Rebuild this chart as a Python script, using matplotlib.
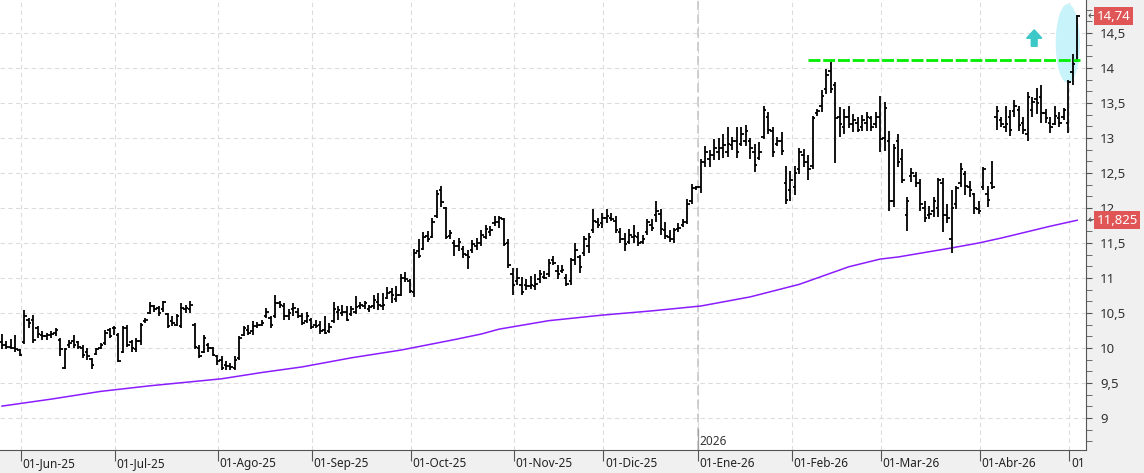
import numpy as np
import pandas as pd
import matplotlib
matplotlib.use("Agg")
import matplotlib.pyplot as plt
from matplotlib.patches import Ellipse
from matplotlib.ticker import MultipleLocator, FixedLocator
import matplotlib.transforms as mtransforms

plt.rcParams['font.family'] = ['Noto Sans', 'DejaVu Sans']

#------ daily OHLC ------#
opens = [10.08, 10.05, 10.02, 10.00, 9.97, 10.08, 10.40, 10.40, 10.28, 10.18,
         10.17, 10.18, 10.22, 10.12, 9.72, 10.05, 10.10, 10.08, 10.00, 9.95,
         9.85, 9.92, 10.00, 10.07, 10.25, 10.28, 10.19, 9.95, 10.29, 10.08,
         9.98, 10.10, 10.38, 10.50, 10.60, 10.57, 10.55, 10.48, 10.38, 10.33,
         10.31, 10.55, 10.55, 10.33, 10.00, 9.95, 10.05, 10.00, 9.88, 9.83,
         9.76, 9.74, 9.71, 9.86, 10.19, 10.26, 10.24, 10.31, 10.33, 10.45,
         10.43, 10.45, 10.64, 10.60, 10.45, 10.55, 10.52, 10.45, 10.38, 10.40,
         10.33, 10.33, 10.25, 10.24, 10.38, 10.52, 10.50, 10.52, 10.48, 10.52,
         10.60, 10.60, 10.56, 10.60, 10.65, 10.60, 10.72, 10.80, 10.70, 10.76,
         11.00, 10.95, 10.80, 11.38, 11.42, 11.60, 11.58, 11.88, 12.25, 12.00,
         11.60, 11.50, 11.45, 11.42, 11.33, 11.40, 11.45, 11.50, 11.58, 11.65,
         11.78, 11.80, 11.84, 11.50, 11.05, 10.95, 10.90, 10.90, 10.88, 10.88,
         10.98, 11.02, 11.05, 11.25, 11.10, 11.10, 11.00, 10.95, 11.25, 11.30,
         11.35, 11.45, 11.68, 11.80, 11.78, 11.85, 11.86, 11.82, 11.65, 11.55,
         11.52, 11.58, 11.58, 11.52, 11.65, 11.75, 11.90, 11.92, 11.68, 11.58,
         11.55, 11.70, 11.75, 11.80, 12.10, 12.28, 12.30, 12.65, 12.70, 12.75,
         12.80, 12.85, 12.80, 12.90, 12.95, 12.92, 12.95, 12.95, 12.80, 12.72,
         13.02, 13.30, 13.10, 12.92, 12.95, 12.35, 12.25, 12.30, 12.55, 12.75,
         12.65, 12.60, 13.35, 13.45, 13.70, 13.95, 13.75, 13.30, 13.15, 13.30,
         13.20, 13.22, 13.15, 13.22, 13.28, 13.20, 13.30, 13.00, 12.95, 12.10,
         12.95, 12.70, 11.90, 12.45, 12.45, 12.35, 12.00, 11.90, 11.95, 12.00,
         12.35, 11.90, 11.55, 12.05, 12.35, 12.48, 12.30, 12.20, 11.98, 12.30,
         12.20, 12.35, 13.30, 13.25, 13.15, 13.30, 13.38, 13.40, 13.22, 13.05,
         13.40, 13.55, 13.58, 13.35, 13.22, 13.20, 13.28, 13.30, 13.22, 13.94,
         14.10]
highs = [10.20, 10.10, 10.13, 10.19, 9.98, 10.54, 10.43, 10.47, 10.31, 10.24,
         10.22, 10.24, 10.29, 10.14, 10.00, 10.12, 10.19, 10.10, 10.05, 10.00,
         9.86, 10.00, 10.07, 10.26, 10.29, 10.31, 10.21, 10.31, 10.33, 10.12,
         10.14, 10.36, 10.43, 10.65, 10.62, 10.60, 10.67, 10.50, 10.45, 10.48,
         10.64, 10.62, 10.67, 10.36, 10.05, 10.19, 10.07, 10.02, 9.90, 9.88,
         9.81, 9.79, 9.88, 10.17, 10.31, 10.33, 10.38, 10.37, 10.40, 10.57,
         10.45, 10.76, 10.67, 10.64, 10.55, 10.64, 10.57, 10.50, 10.52, 10.43,
         10.40, 10.38, 10.45, 10.35, 10.65, 10.60, 10.62, 10.60, 10.60, 10.74,
         10.65, 10.67, 10.62, 10.75, 10.79, 10.78, 10.87, 10.86, 10.88, 11.06,
         11.08, 10.99, 11.41, 11.55, 11.65, 11.67, 11.86, 12.26, 12.32, 12.02,
         11.68, 11.54, 11.57, 11.45, 11.40, 11.54, 11.57, 11.69, 11.76, 11.74,
         11.88, 11.89, 11.86, 11.55, 11.14, 11.14, 11.01, 10.98, 11.03, 11.05,
         11.11, 11.10, 11.27, 11.32, 11.19, 11.19, 11.06, 11.29, 11.50, 11.33,
         11.60, 11.64, 11.98, 11.86, 11.93, 11.99, 11.93, 11.89, 11.71, 11.64,
         11.70, 11.75, 11.65, 11.62, 11.84, 11.84, 12.10, 11.98, 11.80, 11.69,
         11.72, 11.78, 11.84, 12.13, 12.34, 12.32, 12.70, 12.88, 12.83, 12.99,
         13.00, 13.06, 13.16, 13.02, 13.16, 13.16, 13.18, 13.00, 12.91, 12.94,
         13.46, 13.37, 13.15, 13.02, 13.08, 12.60, 12.53, 12.60, 12.86, 12.84,
         12.75, 13.32, 13.41, 13.68, 13.99, 14.08, 13.80, 13.44, 13.41, 13.45,
         13.34, 13.30, 13.33, 13.37, 13.32, 13.37, 13.60, 13.51, 13.10, 12.92,
         13.05, 12.84, 12.16, 12.57, 12.52, 12.41, 12.10, 12.03, 12.16, 12.43,
         12.43, 12.06, 12.25, 12.32, 12.64, 12.53, 12.39, 12.22, 12.10, 12.59,
         12.32, 12.67, 13.45, 13.30, 13.45, 13.40, 13.54, 13.45, 13.30, 13.65,
         13.58, 13.71, 13.75, 13.41, 13.30, 13.45, 13.37, 13.43, 13.83, 14.20,
         14.76]
lows = [9.98, 9.98, 9.98, 9.95, 9.88, 10.06, 10.29, 10.07, 10.14, 10.12,
        10.12, 10.14, 10.17, 9.88, 9.70, 10.00, 10.00, 9.98, 9.86, 9.83,
        9.70, 9.90, 9.98, 10.05, 10.14, 10.19, 9.80, 9.93, 10.02, 9.95,
        9.95, 10.05, 10.36, 10.48, 10.52, 10.45, 10.52, 10.29, 10.31, 10.31,
        10.29, 10.50, 10.50, 9.98, 9.86, 9.93, 9.95, 9.88, 9.76, 9.69,
        9.69, 9.69, 9.69, 9.83, 10.17, 10.19, 10.19, 10.29, 10.31, 10.43,
        10.29, 10.43, 10.57, 10.40, 10.40, 10.45, 10.43, 10.33, 10.35, 10.27,
        10.29, 10.20, 10.20, 10.22, 10.36, 10.40, 10.45, 10.38, 10.45, 10.49,
        10.56, 10.55, 10.51, 10.55, 10.54, 10.54, 10.70, 10.64, 10.65, 10.74,
        10.94, 10.79, 10.73, 11.29, 11.40, 11.51, 11.57, 11.86, 12.02, 11.55,
        11.56, 11.31, 11.38, 11.29, 11.13, 11.36, 11.40, 11.45, 11.55, 11.60,
        11.74, 11.71, 11.45, 11.14, 10.76, 10.90, 10.75, 10.83, 10.84, 10.83,
        10.93, 10.98, 11.02, 11.18, 10.98, 11.07, 10.88, 10.90, 11.19, 11.07,
        11.32, 11.35, 11.64, 11.71, 11.71, 11.79, 11.81, 11.64, 11.50, 11.38,
        11.48, 11.50, 11.45, 11.48, 11.62, 11.67, 11.80, 11.62, 11.55, 11.51,
        11.50, 11.65, 11.73, 11.77, 12.06, 12.25, 12.21, 12.58, 12.58, 12.68,
        12.69, 12.72, 12.73, 12.83, 12.71, 12.88, 12.89, 12.70, 12.51, 12.68,
        12.99, 13.06, 12.73, 12.89, 12.75, 12.06, 12.10, 12.18, 12.49, 12.58,
        12.40, 12.56, 13.32, 13.37, 13.63, 13.64, 12.64, 13.01, 13.05, 13.14,
        13.08, 13.08, 13.10, 13.10, 13.10, 13.14, 12.80, 12.82, 11.96, 12.01,
        12.58, 12.35, 11.67, 12.37, 12.30, 11.96, 11.80, 11.84, 11.87, 11.87,
        11.65, 11.78, 11.35, 11.99, 12.30, 12.18, 12.15, 11.91, 11.91, 12.25,
        12.01, 12.27, 13.11, 13.15, 13.08, 13.03, 13.30, 13.10, 13.06, 12.95,
        13.30, 13.34, 13.21, 13.21, 13.07, 13.18, 13.16, 13.25, 13.07, 13.76,
        14.08]
closes = [10.05, 10.02, 10.00, 9.98, 9.90, 10.45, 10.35, 10.12, 10.20, 10.17,
          10.19, 10.20, 10.25, 9.98, 9.98, 10.07, 10.05, 10.02, 9.90, 9.88,
          9.76, 9.98, 10.05, 10.22, 10.17, 10.29, 9.82, 10.28, 10.05, 10.00,
          10.10, 10.33, 10.40, 10.60, 10.55, 10.50, 10.65, 10.31, 10.35, 10.45,
          10.57, 10.57, 10.62, 10.02, 9.88, 10.14, 10.00, 9.90, 9.81, 9.71,
          9.74, 9.73, 9.83, 10.14, 10.29, 10.22, 10.31, 10.33, 10.36, 10.52,
          10.33, 10.64, 10.62, 10.45, 10.50, 10.57, 10.45, 10.36, 10.45, 10.30,
          10.31, 10.24, 10.22, 10.30, 10.55, 10.54, 10.52, 10.40, 10.55, 10.58,
          10.62, 10.64, 10.58, 10.68, 10.62, 10.62, 10.78, 10.76, 10.75, 11.00,
          10.98, 10.82, 11.35, 11.32, 11.58, 11.56, 11.80, 12.20, 12.08, 11.58,
          11.64, 11.45, 11.52, 11.34, 11.30, 11.48, 11.50, 11.62, 11.70, 11.68,
          11.80, 11.85, 11.48, 11.18, 10.90, 11.00, 10.80, 10.88, 10.90, 10.92,
          11.05, 11.00, 11.22, 11.22, 11.05, 11.12, 10.92, 11.25, 11.40, 11.15,
          11.55, 11.58, 11.82, 11.76, 11.85, 11.88, 11.84, 11.68, 11.55, 11.48,
          11.62, 11.60, 11.50, 11.55, 11.80, 11.72, 11.95, 11.70, 11.60, 11.55,
          11.68, 11.72, 11.80, 12.05, 12.28, 12.30, 12.65, 12.80, 12.75, 12.85,
          12.85, 12.90, 12.92, 12.95, 12.80, 13.05, 13.10, 12.85, 12.62, 12.80,
          13.40, 13.12, 12.80, 12.95, 12.82, 12.12, 12.40, 12.50, 12.80, 12.65,
          12.55, 13.28, 13.38, 13.60, 13.90, 13.70, 13.28, 13.20, 13.30, 13.20,
          13.25, 13.12, 13.25, 13.30, 13.15, 13.30, 12.98, 13.43, 12.10, 12.85,
          12.65, 12.40, 12.10, 12.50, 12.35, 12.05, 11.85, 11.92, 12.10, 12.40,
          11.90, 11.85, 12.00, 12.28, 12.55, 12.32, 12.25, 12.00, 11.95, 12.55,
          12.12, 12.30, 13.38, 13.20, 13.20, 13.12, 13.45, 13.18, 13.12, 13.58,
          13.52, 13.50, 13.35, 13.28, 13.15, 13.32, 13.22, 13.40, 13.80, 14.06,
          14.74]

# moving average (sampled along the purple line)
ma_idx = [0, 11, 22, 33, 49, 58, 67, 78, 89, 101, 107, 111, 122, 134, 145,
          156, 167, 178, 189, 196, 200, 212, 218, 223, 234, 240]
ma_val = [9.17, 9.27, 9.38, 9.46, 9.56, 9.65, 9.73, 9.86, 9.97, 10.12, 10.20,
          10.27, 10.39, 10.47, 10.53, 10.60, 10.73, 10.91, 11.16, 11.27, 11.30,
          11.43, 11.50, 11.57, 11.74, 11.825]

holidays = ['2025-12-25', '2025-12-26', '2026-01-01', '2026-04-03',
            '2026-04-06', '2026-05-01']
month_labels = ['01-Jun-25', '01-Jul-25', '01-Ago-25', '01-Sep-25', '01-Oct-25',
                '01-Nov-25', '01-Dic-25', '01-Ene-26', '01-Feb-26', '01-Mar-26',
                '01-Abr-26', '01']
y_ticks = [9.0, 9.5, 10.0, 10.5, 11.0, 11.5, 12.0, 12.5, 13.0, 13.5, 14.0, 14.5]
resistance = 14.12

n = len(closes)
dates = pd.bdate_range('2025-05-26', periods=n, freq='C', holidays=holidays)
x = np.arange(n)
month_pos = [i - 0.75 for i in range(1, n) if dates[i].month != dates[i - 1].month]
year_pos = [i - 0.75 for i in range(1, n) if dates[i].year != dates[i - 1].year][0]

W, H = 1144, 473
fig = plt.figure(figsize=(W / 100, H / 100), dpi=100, facecolor='#f0f0f0')
ax = fig.add_axes([0, 23 / H, 1086 / W, 450 / H])
ax.set_facecolor('white')
ax.set_xlim(-0.45, 241.96)
ax.set_ylim(8.543, 14.971)

# grid
for p in month_pos:
    ax.axvline(p, color='#dcdcdc', lw=0.8, ls=(0, (4, 3)), zorder=0)
for v in y_ticks:
    ax.axhline(v, color='#dcdcdc', lw=0.8, ls=(0, (4, 3)), zorder=0)
ax.axvline(year_pos, color='#c4c4c4', lw=1.1, ls=(0, (6, 3)), zorder=0)
ax.plot([year_pos, year_pos], [8.543, 8.85], color='#a0a0a0', lw=0.9, zorder=1)
ax.text(year_pos + 0.4, 8.67, '2026', fontsize=8.5, color='#333333',
        va='center', ha='left')

# highlight ellipse + arrow
ax.add_patch(Ellipse((237.9, 14.35), 5.4, 1.13, facecolor='#c9f3fb',
                     edgecolor='none', zorder=1))
ax.arrow(230.4, 14.31, 0, 0.235, width=1.3, head_width=3.4, head_length=0.12,
         length_includes_head=True, color='#3cc8c8', zorder=2)

# moving average
ax.plot(ma_idx, ma_val, color='#8a1cff', lw=1.1, zorder=2)

# OHLC bars
ax.vlines(x, lows, highs, color='black', lw=1.3, zorder=3)
ax.hlines(opens, x - 0.55, x, color='black', lw=1.3, zorder=3)
ax.hlines(closes, x, x + 0.55, color='black', lw=1.3, zorder=3)

# resistance line
ax.plot([180, 240.6], [resistance, resistance], color='#00ee00', lw=2,
        ls=(0, (4.3, 1.0)), zorder=4)

# axes styling
for s in ['top', 'left']:
    ax.spines[s].set_visible(False)
for s in ['bottom', 'right']:
    ax.spines[s].set_color('#555555')
ax.yaxis.tick_right()
ax.set_yticks(y_ticks)
ax.set_yticklabels([('%g' % v).replace('.', ',') for v in y_ticks])
ax.yaxis.set_minor_locator(MultipleLocator(1 / 6))
ax.tick_params(axis='y', which='both', length=4, color='#555555',
               labelsize=9.5, labelcolor='#333333', pad=6)
ax.set_xticks(month_pos)
ax.set_xticklabels([])
ax.tick_params(axis='x', length=8, color='#555555')

trans = mtransforms.blended_transform_factory(ax.transData, ax.transAxes)
for p, lab in zip(month_pos, month_labels):
    ax.text(p + 0.35, -0.03, lab, transform=trans, fontsize=8.5,
            color='#222222', ha='left', va='center', clip_on=False)

# price tags on the right
ytrans = mtransforms.blended_transform_factory(ax.transAxes, ax.transData)
for val, lab in [(closes[-1], '14,74'), (ma_val[-1], '11,825')]:
    ax.text(1.0095, val, lab, transform=ytrans, fontsize=9.5, color='white',
            ha='left', va='center', clip_on=False, zorder=10,
            bbox=dict(boxstyle='square,pad=0.2', facecolor='#e05555',
                      edgecolor='none'))
    ax.text(1.0015, val, '\u2190', transform=ytrans, fontsize=8,
            color='#555555', ha='left', va='center', clip_on=False)

fig.savefig('out.png', dpi=100, facecolor=fig.get_facecolor())
